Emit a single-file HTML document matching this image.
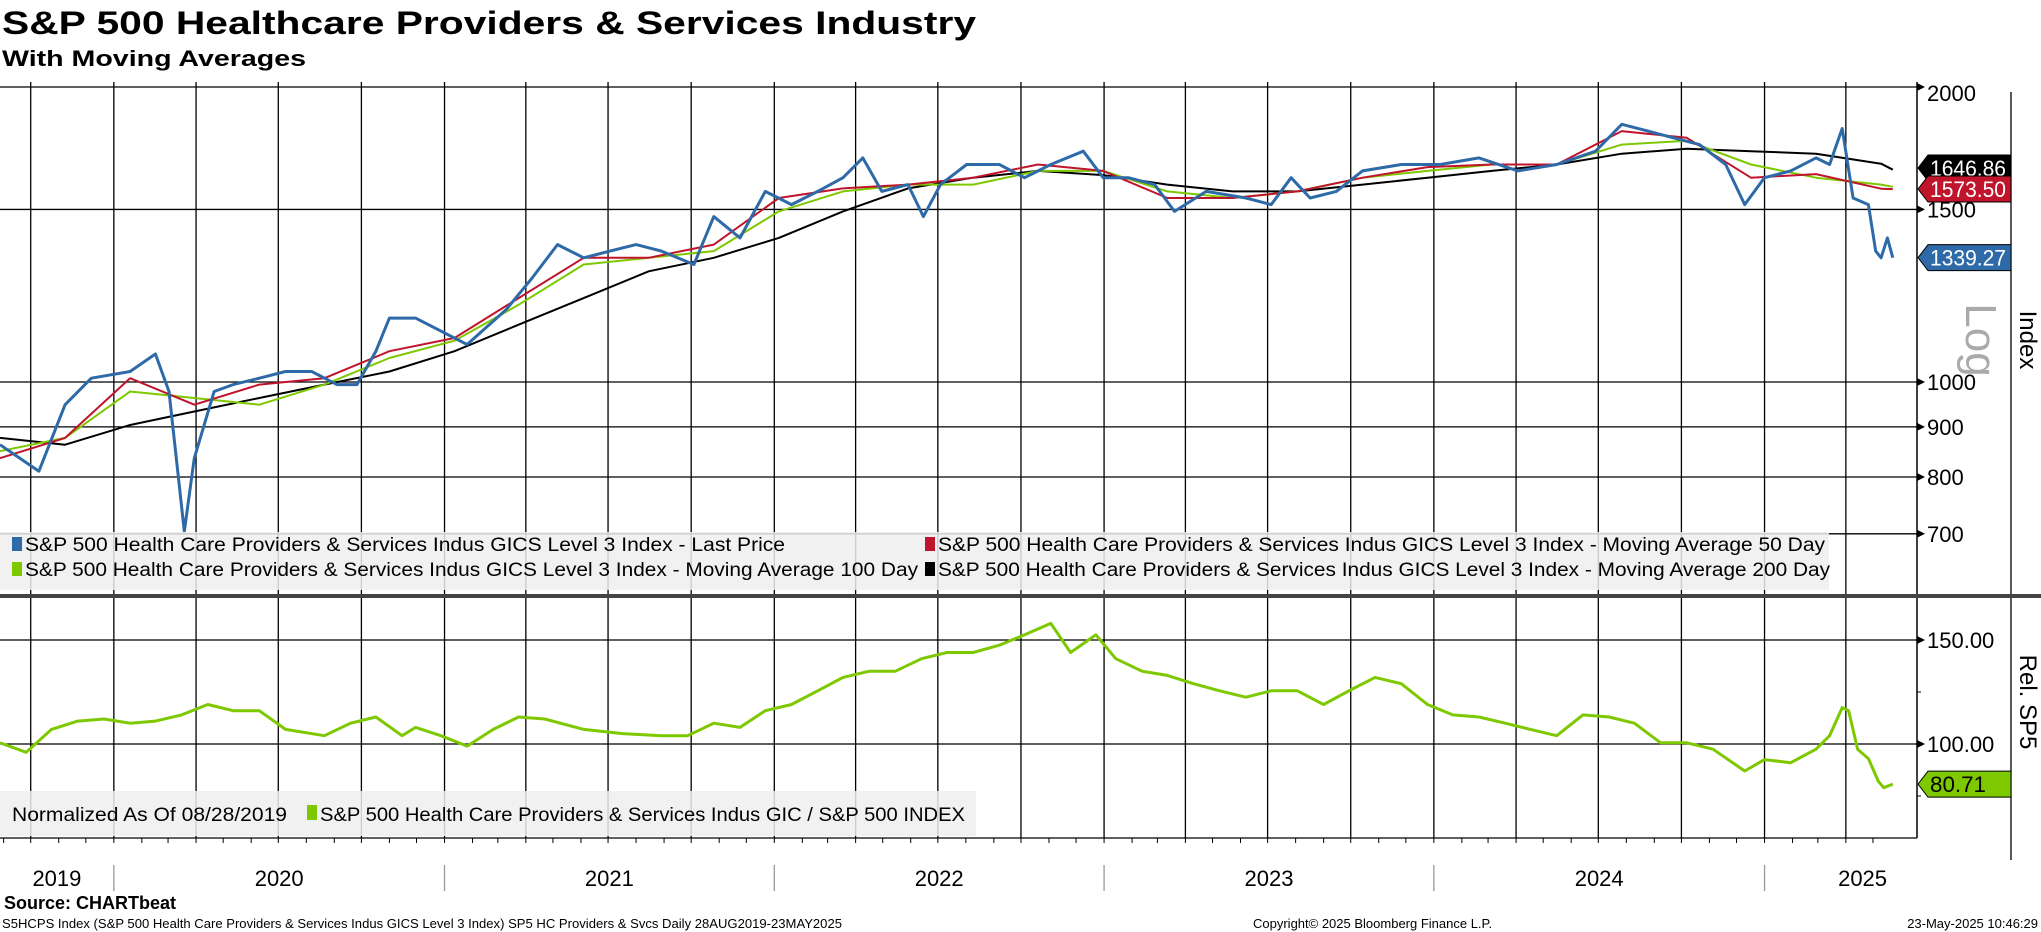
<!DOCTYPE html>
<html><head><meta charset="utf-8">
<style>
html,body{margin:0;padding:0;background:#fff;}
svg{display:block;font-family:"Liberation Sans",sans-serif;}
</style></head>
<body>
<svg id="chart" width="2041" height="932" viewBox="0 0 2041 932" xmlns="http://www.w3.org/2000/svg">
<g id="static">
<text x="2" y="34" font-size="32" font-weight="bold" textLength="974" lengthAdjust="spacingAndGlyphs">S&amp;P 500 Healthcare Providers &amp; Services Industry</text>
<text x="2" y="66" font-size="22" font-weight="bold" textLength="304" lengthAdjust="spacingAndGlyphs">With Moving Averages</text>
</g>
<g id="grid"></g>
<g id="series"></g>
<g id="overlay"></g>
</svg>
<script>
// ---- data ----
var priceDays = [0,43,72,101,144,172,187,204,215,237,258,287,316,345,373,395,416,431,460,488,517,560,589,617,646,675,704,732,768,790,819,847,876,905,933,955,976,1005,1022,1041,1070,1106,1134,1163,1199,1221,1249,1278,1300,1335,1379,1407,1429,1450,1479,1508,1551,1594,1637,1680,1723,1766,1795,1824,1852,1881,1910,1931,1953,1982,2010,2025,2039,2051,2068,2076,2082,2089,2095];
var priceVals = [863,811,948,1009,1025,1068,978,704,836,978,994,1009,1025,1025,994,994,1075,1162,1162,1127,1092,1185,1277,1381,1339,1360,1381,1360,1318,1475,1403,1565,1517,1565,1616,1693,1565,1590,1475,1590,1667,1667,1616,1667,1720,1616,1616,1590,1493,1565,1541,1517,1616,1541,1565,1642,1667,1667,1693,1642,1667,1720,1832,1803,1775,1747,1667,1517,1616,1642,1693,1667,1814,1541,1517,1360,1339,1403,1339.27];
var maDays = [0,72,144,215,287,359,431,503,574,646,718,790,862,933,1005,1077,1149,1221,1292,1364,1436,1508,1580,1651,1723,1795,1867,1938,2010,2082,2095];
var ma50Vals = [836,877,1009,948,994,1009,1075,1109,1218,1339,1339,1381,1541,1576,1590,1616,1667,1642,1541,1541,1565,1616,1657,1667,1667,1803,1775,1616,1630,1575,1573.5];
var ma100Vals = [850,877,978,963,948,994,1058,1102,1199,1318,1339,1360,1493,1565,1590,1590,1642,1642,1565,1541,1565,1616,1642,1667,1667,1747,1763,1667,1616,1590,1582];
var ma200Vals = [877,863,904,933,963,994,1025,1075,1144,1218,1297,1339,1403,1493,1576,1616,1642,1626,1590,1565,1565,1590,1616,1642,1667,1710,1730,1720,1710,1670,1646.86];
var relDays = [0,29,57,86,115,144,172,201,230,258,287,316,359,388,416,445,460,488,517,546,574,603,646,689,732,761,790,819,847,876,905,933,962,991,1020,1048,1077,1106,1134,1163,1185,1213,1235,1264,1292,1321,1350,1379,1407,1436,1465,1493,1522,1551,1580,1608,1637,1666,1694,1723,1752,1781,1809,1838,1867,1896,1931,1953,1982,2010,2025,2039,2046,2056,2068,2079,2085,2095];
var relVals = [100.6,96,107,111,112,110,111,114,119,116,116,107,104,110,113,104,108,104,99,107,113,112,107,105,104,104,110,108,116,119,125.6,132,135,135,141,144,144,147.5,152.5,158,144,152.5,141,135,133,129,125.6,122.5,125.6,125.6,119,125.6,132,129,119,114,113,110,107,104,114,113,110,100.6,100.6,97.5,87,92.5,91,97.5,104,117.5,116,97.5,93,82,79,80.71];
var priceTicks = [2000,1500,1000,900,800,700];
var priceTickLabels = ["2000","1500","1000","900","800","700"];
var relTicks = [150,100];
var relTickLabels = ["150.00","100.00"];
var yearLabels = ["2019","2020","2021","2022","2023","2024","2025"];
var yearStartDays = [0,126,492,857,1222,1587,1953];
var endDay = 2095;

// ---- axes ----
var NS = "http://www.w3.org/2000/svg";
var AXR = 1917;
function xDay(d){ return d*0.9035; }
function yPrice(v){ return 382 - 980*Math.log10(v/1000); }
function yRel(v){ return 744 - (v-100)*2.08; }
function mk(tag, attrs, parent){ var e=document.createElementNS(NS,tag); for(var k in attrs) e.setAttribute(k,attrs[k]); parent.appendChild(e); return e; }
var grid=document.getElementById('grid'), series=document.getElementById('series'), ov=document.getElementById('overlay');

var qDates=[], mDates=[];
for(var yy=2019; yy<=2025; yy++){ for(var m=0;m<12;m++){ var d=(Date.UTC(yy,m,1)-Date.UTC(2019,7,28))/86400000; if(d>0 && d<endDay){ mDates.push(d); if(m%3===0) qDates.push(d);} } }
qDates.forEach(function(d){
  var l=mk('line',{x1:xDay(d),x2:xDay(d),y1:82,y2:838,stroke:'#000','stroke-width':1.3},grid);
  
  
});
mDates.forEach(function(d){
  var t=mk('line',{x1:xDay(d),x2:xDay(d),y1:838,y2:843,stroke:'#000','stroke-width':1},grid);
  
  
});
priceTicks.forEach(function(v,i){
  var y=yPrice(v);
  var l=mk('line',{x1:0,x2:AXR,y1:y,y2:y,stroke:'#000','stroke-width':1.3},grid);
  
  
  var p=mk('path',{d:'M'+AXR+' '+(y-4)+'L'+(AXR+8)+' '+y+'L'+AXR+' '+(y+4)+'Z',fill:'#000'},grid);
  
  
  var t=mk('text',{x:AXR+10,y:y+(i===0?14:8),'font-size':22},grid); t.textContent=priceTickLabels[i];
  
  
});
relTicks.forEach(function(v,i){
  var y=yRel(v);
  var l=mk('line',{x1:0,x2:AXR,y1:y,y2:y,stroke:'#000','stroke-width':1.3},grid);
  
  
  var p=mk('path',{d:'M'+AXR+' '+(y-4)+'L'+(AXR+8)+' '+y+'L'+AXR+' '+(y+4)+'Z',fill:'#000'},grid);
  
  
  var t=mk('text',{x:AXR+10,y:y+8,'font-size':22},grid); t.textContent=relTickLabels[i];
  
  
});
[125,75].forEach(function(v){ var y=yRel(v); var m=mk('line',{x1:AXR,x2:AXR+4,y1:y,y2:y,stroke:'#000'},grid);
  
   });
var a1=mk('line',{x1:AXR,x2:AXR,y1:82,y2:838,stroke:'#000','stroke-width':1.5},grid);


var a2=mk('line',{x1:2011,x2:2011,y1:92,y2:860,stroke:'#000','stroke-width':1.3},grid);


var a3=mk('line',{x1:0,x2:AXR,y1:838,y2:838,stroke:'#000','stroke-width':1.3},grid);



yearLabels.forEach(function(lbl,i){
  var s=yearStartDays[i], e=(i+1<yearStartDays.length)?yearStartDays[i+1]:endDay+75;
  if(i>0){ var sp=mk('line',{x1:xDay(s),x2:xDay(s),y1:865,y2:891,stroke:'#999','stroke-width':1.3},grid);
    
     }
  var t=mk('text',{x:xDay((s+e)/2),y:886,'font-size':22,'text-anchor':'middle'},grid); t.textContent=lbl;
  
  
});

function line(days, vals, yf, color, w, name){
  var d='';
  for(var i=0;i<days.length;i++){ d+=(i?'L':'M')+xDay(days[i]).toFixed(1)+' '+yf(vals[i]).toFixed(1); }
  var p=mk('path',{d:d,fill:'none',stroke:color,'stroke-width':w,'stroke-linejoin':'round'},series);
  
  
}
line(maDays, ma200Vals, yPrice, '#000', 2, 'ma200-line');
line(maDays, ma100Vals, yPrice, '#7ec800', 2, 'ma100-line');
line(maDays, ma50Vals, yPrice, '#c0142c', 2, 'ma50-line');
line(priceDays, priceVals, yPrice, '#2e6aa8', 3, 'price-line');
line(relDays, relVals, yRel, '#7ec800', 3, 'relative-line');

var sep=mk('rect',{x:0,y:594,width:2041,height:4,fill:'#444'},ov);



var lg=mk('rect',{x:0,y:532,width:1829,height:58,fill:'rgba(238,238,238,0.85)'},ov);


var legItems=[
 ['#2e6aa8','S&P 500 Health Care Providers & Services Indus GICS Level 3 Index - Last Price',12,547,760],
 ['#c0142c','S&P 500 Health Care Providers & Services Indus GICS Level 3 Index - Moving Average 50 Day',925,547,887],
 ['#7ec800','S&P 500 Health Care Providers & Services Indus GICS Level 3 Index - Moving Average 100 Day',12,572,893],
 ['#000','S&P 500 Health Care Providers & Services Indus GICS Level 3 Index - Moving Average 200 Day',925,572,892]];
legItems.forEach(function(it){
  var r=mk('rect',{x:it[2],y:it[3]-10,width:10,height:14,fill:it[0]},ov);
  
  
  var t=mk('text',{x:it[2]+13,y:it[3]+4,'font-size':19,textLength:it[4],lengthAdjust:'spacingAndGlyphs'},ov); t.textContent=it[1];
  
  
});
var lg2=mk('rect',{x:0,y:791,width:976,height:45,fill:'rgba(238,238,238,0.85)'},ov);


var nt=mk('text',{x:12,y:821,'font-size':19,textLength:275,lengthAdjust:'spacingAndGlyphs'},ov); nt.textContent='Normalized As Of 08/28/2019';


var sw=mk('rect',{x:307,y:805,width:10,height:15,fill:'#7ec800'},ov);


var rt=mk('text',{x:320,y:821,'font-size':19,textLength:645,lengthAdjust:'spacingAndGlyphs'},ov); rt.textContent='S&P 500 Health Care Providers & Services Indus GIC / S&P 500 INDEX';



function badge(y, bg, fg, txt, name){
  var p=mk('path',{d:'M1918 '+y+'L1928 '+(y-13)+'L2011 '+(y-13)+'L2011 '+(y+13)+'L1928 '+(y+13)+'Z',fill:bg,stroke:'#000','stroke-width':1},ov);
  
  
  var t=mk('text',{x:1930,y:y+8,'font-size':22,fill:fg,textLength:txt.length>5?76:56,lengthAdjust:'spacingAndGlyphs'},ov); t.textContent=txt;
  
  
}
badge(168, '#000', '#fff', ma200Vals[ma200Vals.length-1].toFixed(2), 'ma200-badge');
badge(189, '#c0142c', '#fff', ma50Vals[ma50Vals.length-1].toFixed(2), 'ma50-badge');
badge(yPrice(priceVals[priceVals.length-1]), '#2e6aa8', '#fff', priceVals[priceVals.length-1].toFixed(2), 'price-badge');
badge(yRel(relVals[relVals.length-1]), '#7ec800', '#000', relVals[relVals.length-1].toFixed(2), 'relative-badge');

function rot(x,y,txt,size,color,name){
  var t=mk('text',{x:x,y:y,'font-size':size,fill:color,'text-anchor':'middle',transform:'rotate(90 '+x+' '+y+')'},ov); t.textContent=txt;
  
  
}
rot(2020,340,'Index',24,'#000','price-axis-title');
rot(1966,340,'Log',44,'#aaa','log-scale-label');
rot(2020,702,'Rel. SP5',24,'#000','relative-axis-title');

var src=mk('text',{x:4,y:909,'font-size':18,'font-weight':'bold'},ov); src.textContent='Source: CHARTbeat';


var f1=mk('text',{x:2,y:928,'font-size':13,textLength:840,lengthAdjust:'spacingAndGlyphs'},ov); f1.textContent='S5HCPS Index (S&P 500 Health Care Providers & Services Indus GICS Level 3 Index) SP5 HC Providers & Svcs  Daily 28AUG2019-23MAY2025';


var f2=mk('text',{x:1253,y:928,'font-size':13},ov); f2.textContent='Copyright\u00A9 2025 Bloomberg Finance L.P.';


var f3=mk('text',{x:2038,y:928,'font-size':13,'text-anchor':'end'},ov); f3.textContent='23-May-2025 10:46:29';


</script>
</body></html>
